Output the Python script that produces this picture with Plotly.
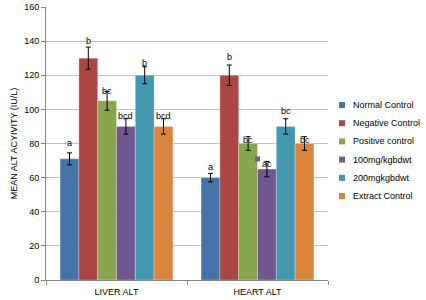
import plotly.graph_objects as go

categories = ["LIVER ALT", "HEART ALT"]
series_names = ["Normal Control", "Negative Control", "Positive control",
                "100mg/kgbdwt", "200mgkgbdwt", "Extract Control"]
normal_control = [71, 60]
negative_control = [130, 120]
positive_control = [105, 80]
dose_100 = [90, 65]
dose_200 = [120, 90]
extract_control = [90, 80]

normal_err = [3.5, 2.5]
negative_err = [6.5, 6]
positive_err = [5.5, 4]
dose_100_err = [4.5, 4.5]
dose_200_err = [5, 4.5]
extract_err = [4.5, 4]

liver_letters = ["a", "b", "bc", "bcd", "b", "bcd"]
heart_letters = ["a", "b", "bc", "ac", "bc", "bc"]

values = [normal_control, negative_control, positive_control, dose_100, dose_200, extract_control]
errors = [normal_err, negative_err, positive_err, dose_100_err, dose_200_err, extract_err]
letters = [liver_letters, heart_letters]

colors = ["#4572A7", "#AA4643", "#89A54E", "#71588F", "#4198AF", "#DB843D"]
# pixel offsets of the letter labels relative to error-bar tops (style)
label_shift = [[10, 6, 0, 3, 4, 3], [6, 8, -3, -3, 8, -3]]

W, H = 426, 300
ML, MR, MT, MB = 46, 98, 7, 20
PW, PH = W - ML - MR, H - MT - MB

font = "Liberation Sans"
fig = go.Figure()
for i, name in enumerate(series_names):
    fig.add_trace(go.Bar(
        x=categories, y=values[i], name=name, showlegend=False,
        marker=dict(color=colors[i], line=dict(color="rgba(255,255,255,0.45)", width=0.6)),
        error_y=dict(type="data", array=errors[i], color="#000000", thickness=1, width=2.5),
    ))

bargap = 0.2
bw = (1 - bargap) / len(series_names)
annotations = []
for c in range(len(categories)):
    for i in range(len(series_names)):
        xoff = c + (i - (len(series_names) - 1) / 2) * bw
        annotations.append(dict(
            x=xoff, y=values[i][c] + errors[i][c], text=letters[c][i],
            showarrow=False, yanchor="middle", yshift=label_shift[c][i],
            font=dict(family=font, size=9, color="#000000"),
        ))

# manual legend (paper coordinates computed from pixel layout)
shapes = []
for i, name in enumerate(series_names):
    yc = 105 + i * 18.2
    py = (H - MB - yc) / PH
    x0 = (339 - ML) / PW
    x1 = (345 - ML) / PW
    shapes.append(dict(type="rect", xref="paper", yref="paper",
                       x0=x0, x1=x1, y0=py - 3 / PH, y1=py + 3 / PH,
                       fillcolor=colors[i], line=dict(width=0)))
    annotations.append(dict(xref="paper", yref="paper", x=(351 - ML) / PW, y=py,
                            xanchor="left", yanchor="middle", showarrow=False,
                            text=name, font=dict(family=font, size=9, color="#000000")))

# stray small purple marker present in the reference
fig.add_trace(go.Scatter(x=["HEART ALT"], y=[71], mode="markers", showlegend=False,
                         marker=dict(symbol="square", size=5, color=colors[3])))

fig.update_layout(
    width=W, height=H,
    margin=dict(l=ML, r=MR, t=MT, b=MB, autoexpand=False),
    barmode="group", bargap=bargap, bargroupgap=0,
    plot_bgcolor="white", paper_bgcolor="white",
    font=dict(family=font, size=9, color="#000000"),
    annotations=annotations, shapes=shapes, showlegend=False,
    yaxis=dict(range=[0, 160], dtick=20, showgrid=True, gridcolor="#c0c0c0",
               gridwidth=1, showline=True, linecolor="#868686", ticks="outside",
               ticklen=4, tickcolor="#868686", zeroline=False, automargin=False,
               title=dict(text="MEAN ALT ACYIVITY (IU/L)", font=dict(size=9), standoff=5),
               tickfont=dict(size=9)),
    xaxis=dict(showline=True, linecolor="#868686", ticks="outside", tickson="boundaries",
               ticklen=4, tickcolor="#868686", tickfont=dict(size=9), automargin=False,
               ticklabelstandoff=3, range=[-0.5, 1.5]),
)

fig.write_html("out.html", config={"displayModeBar": False},
               post_script="document.body.style.margin='0';document.body.style.padding='0';")
